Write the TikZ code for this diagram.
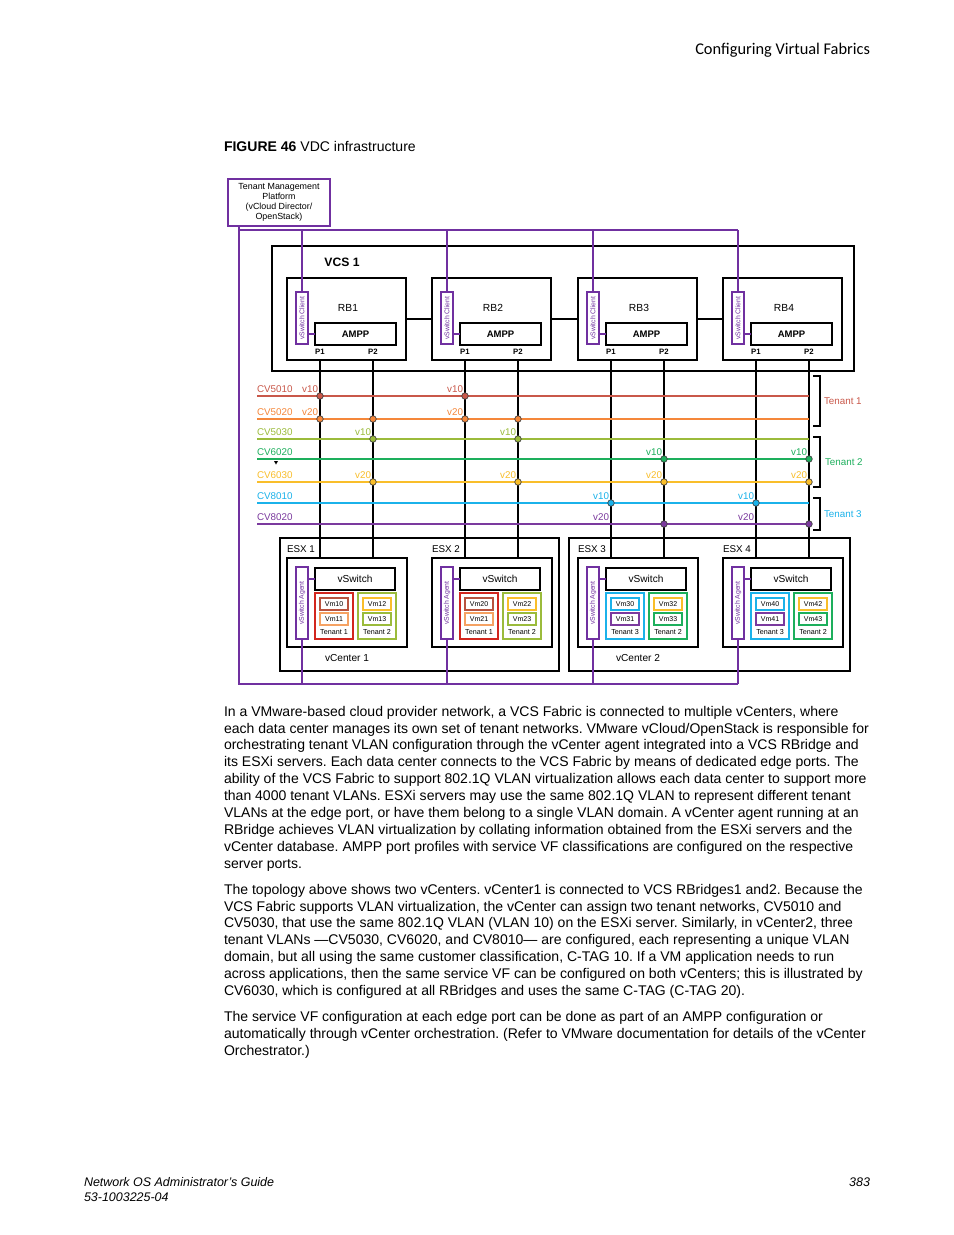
\documentclass[tikz,border=0pt]{standalone}
\usepackage{fontspec}
\setmainfont{Liberation Sans}
\newfontfamily\runfont{Carlito}
\usetikzlibrary{positioning}
\frenchspacing

\definecolor{mgmt}{HTML}{7030A0}
\definecolor{cvA}{HTML}{C9584A}
\definecolor{cvB}{HTML}{F5873A}
\definecolor{cvC}{HTML}{9BBB3B}
\definecolor{cvD}{HTML}{1DAF5C}
\definecolor{cvE}{HTML}{F9BE2A}
\definecolor{cvF}{HTML}{1BB2EA}
\definecolor{cvG}{HTML}{7B3A9E}
\definecolor{tred}{HTML}{D2261E}
\definecolor{vmA}{HTML}{B8533F}
\definecolor{vmB}{HTML}{F5A263}

\newcommand\pxl{0.6415pt}
\newcommand\fsz[1]{\fontsize{#1}{#1}\selectfont}

\tikzset{
  every node/.style={inner sep=0pt, outer sep=0pt},
  wh/.style 2 args={minimum width=#1*\pxl, minimum height=#2*\pxl},
  frame/.style={draw, line width=1.2pt},
  mgmtline/.style={draw=mgmt, line width=1.1pt},
  agentbox/.style={draw=mgmt, line width=1.1pt},
  tenbox/.style={line width=1.2pt},
  vmbox/.style={line width=1.1pt, wh={28}{12}, font=\fsz{4.5}},
  portline/.style={line width=0.9pt},
  vlan/.style={line width=0.9pt},
  dot/.style={circle, draw=black!75, line width=0.45pt, minimum size=4.2pt},
  lbl/.style={font=\fsz{6.3}},
}

% one RBridge of the fabric
\newcommand\RBridge[2]{%
    \node[frame, wh={119}{82}, anchor=north west] (rb#1) at (#2,278) {};
    \node[font=\fsz{6.6}] (rbl#1) at (#2+61,308) {RB#1};
    \node[agentbox, wh={12}{52}, anchor=north west] (cl#1) at (#2+9,292) {};
    \node[rotate=90, font=\fsz{4.4}, text=mgmt] (cll#1) at (cl#1) {vSwitch Client};
    \node[frame, wh={81}{22}, anchor=north west, font=\bfseries\fsz{6.1}] (ampp#1) at (#2+28,323) {AMPP};
    \draw[mgmtline] (cl#1.east |- ampp#1.west) -- (ampp#1.west);
    \node[font=\bfseries\fsz{5}] (pa#1) at (#2+33,352) {P1};
    \node[font=\bfseries\fsz{5}] (pb#1) at (#2+86,352) {P2};
}
% one ESX server: index, left, tenant colour, tenant no., vm colours, tenant 2 colour, vm colours
\newcommand\EsxHost[9]{%
    \node[frame, wh={120}{89}, anchor=north west] (esx#1) at (#2,558) {};
    \node[lbl, anchor=base west] (esxl#1) at (#2,552) {ESX #1};
    \node[agentbox, wh={12}{72}, anchor=north west] (ag#1) at (#2+9,567) {};
    \node[rotate=90, font=\fsz{4.4}, text=mgmt] (agl#1) at (ag#1) {vSwitch Agent};
    \node[frame, wh={80}{22}, anchor=north west, font=\fsz{6.5}] (vs#1) at (#2+28,568) {vSwitch};
    \draw[mgmtline] (ag#1.east |- vs#1.west) -- (vs#1.west);
    \node[tenbox, draw=#3, wh={38}{46}, anchor=north west] (ta#1) at (#2+28,593) {};
    \node[tenbox, draw=#7, wh={38}{46}, anchor=north west] (tb#1) at (#2+71,593) {};
    \node[vmbox, draw=#5, anchor=north west] (vm#10) at (#2+33,598) {Vm#10};
    \node[vmbox, draw=#6, anchor=north west] (vm#11) at (#2+33,613) {Vm#11};
    \node[vmbox, draw=#8, anchor=north west] (vm#12) at (#2+76,598) {Vm#12};
    \node[vmbox, draw=#9, anchor=north west] (vm#13) at (#2+76,613) {Vm#13};
    \node[font=\fsz{4.6}] (tal#1) at (#2+47,632) {Tenant #4};
    \node[font=\fsz{4.6}] (tbl#1) at (#2+90,632) {Tenant 2};
}
% one customer VLAN: colour, y, name, tag, tagged ports, dotted ports
\newcommand\Vlan[6]{%
    \coordinate (vl) at (257,#2);
    \draw[vlan, draw=#1] (vl) -- (vl -| pb4);
    \node[lbl, text=#1, anchor=south west] (#3) at (257,#2-3) {#3};
    \foreach \p in {#5}
        \node[lbl, text=#1, anchor=south east, xshift=-2*\pxl, yshift=3*\pxl] (#3t\p) at (\p |- vl) {#4};
    \foreach \p in {#6}
        \node[dot, fill=#1] (#3d\p) at (\p |- vl) {};
}

\begin{document}
\begin{tikzpicture}[x=0.6415pt, y=-0.6415pt]
    \path[fill=white, use as bounding box] (0,0) rectangle (954,1235);

    % page furniture
    \node[font=\runfont\fontsize{10.5}{12}\selectfont, anchor=base east] (head) at (870,54) {Configuring Virtual Fabrics};
    \node[font=\fontsize{9}{11}\selectfont, anchor=base west] (cap) at (224,151) {\textbf{FIGURE 46} VDC infrastructure};

    % management platform
    \node[draw=mgmt, line width=1.8pt, wh={102}{47}, anchor=north west, align=center,
          font=\fontsize{5.7}{6.4}\selectfont] (tmp) at (228,179)
          {Tenant Management\\Platform\\(vCloud Director/\\OpenStack)};

    % fabric
    \node[frame, wh={582}{125}, anchor=north west] (vcs) at (272,246) {};
    \node[font=\bfseries\fsz{7.8}] (vcsl) at (342,262) {VCS 1};
    \RBridge{1}{287}
    \RBridge{2}{432}
    \RBridge{3}{578}
    \RBridge{4}{723}
    \foreach \a/\b in {1/2,2/3,3/4}
        \draw[frame] (rb\a.east) -- (rb\b.west);

    % vCenters
    \node[frame, wh={279}{133}, anchor=north west] (vc1) at (280,538) {};
    \node[lbl, font=\fsz{6.5}] (vcl1) at (347,658) {vCenter 1};
    \node[frame, wh={281}{133}, anchor=north west] (vc2) at (569,538) {};
    \node[lbl, font=\fsz{6.5}] (vcl2) at (638,658) {vCenter 2};
    \EsxHost{1}{287}{tred}{1}{vmA}{vmB}{cvC}{cvE}{cvC}
    \EsxHost{2}{432}{tred}{1}{vmA}{vmB}{cvC}{cvE}{cvC}
    \EsxHost{3}{578}{cvF}{3}{cvF}{cvG}{cvD}{cvE}{cvD}
    \EsxHost{4}{723}{cvF}{3}{cvF}{cvG}{cvD}{cvE}{cvD}

    % edge ports
    \foreach \i in {1,...,4} {
        \draw[portline] (pa\i |- rb\i.south) -- (pa\i |- esx\i.north);
        \draw[portline] (pb\i |- rb\i.south) -- (pb\i |- esx\i.north);
    }

    % management wiring
    \coordinate (trunk) at (239,684);
    \coordinate (bus) at (239,230);
    \draw[mgmtline] (trunk |- tmp.south) -- (trunk) -- (trunk -| ag4.south);
    \draw[mgmtline] (bus) -- (bus -| cl4.north);
    \foreach \i in {1,...,4} {
        \draw[mgmtline] (bus -| cl\i.north) -- (cl\i.north);
        \draw[mgmtline] (ag\i.south) -- (ag\i.south |- trunk);
    }

    % VLANs
    \Vlan{cvA}{396}{CV5010}{v10}{pa1,pa2}{pa1,pa2}
    \Vlan{cvB}{419}{CV5020}{v20}{pa1,pa2}{pa1,pb1,pa2,pb2}
    \Vlan{cvC}{439}{CV5030}{v10}{pb1,pb2}{pb1,pb2}
    \Vlan{cvD}{459}{CV6020}{v10}{pb3,pb4}{pb3,pb4}
    \Vlan{cvE}{482}{CV6030}{v20}{pb1,pb2,pb3,pb4}{pb1,pb2,pb3,pb4}
    \Vlan{cvF}{503}{CV8010}{v10}{pa3,pa4}{pa3,pa4}
    \Vlan{cvG}{524}{CV8020}{v20}{pa3,pa4}{pb3,pb4}
    \fill (274,461) -- (278,461) -- (276,464.5) -- cycle;

    % tenant brackets
    \draw[line width=0.9pt] (813,376) -| (820,426) -- (813,426);
    \node[lbl, text=cvA, anchor=west] (ten1) at (824,401) {Tenant 1};
    \draw[line width=0.9pt] (813,437) -| (820,487) -- (813,487);
    \node[lbl, text=cvD, anchor=west] (ten2) at (825,462) {Tenant 2};
    \draw[line width=0.9pt] (813,498) -| (820,530) -- (813,530);
    \node[lbl, text=cvF, anchor=west] (ten3) at (824,514) {Tenant 3};

    % text
    \node[anchor=north west, align=left, font=\fontsize{9}{10.83}\selectfont] (body) at (224,706) {%
        In a VMware-based cloud provider network, a VCS Fabric is connected to multiple vCenters, where\\
        each data center manages its own set of tenant networks. VMware vCloud/OpenStack is responsible for\\
        orchestrating tenant VLAN configuration through the vCenter agent integrated into a VCS RBridge and\\
        its ESXi servers. Each data center connects to the VCS Fabric by means of dedicated edge ports. The\\
        ability of the VCS Fabric to support 802.1Q VLAN virtualization allows each data center to support more\\
        than 4000 tenant VLANs. ESXi servers may use the same 802.1Q VLAN to represent different tenant\\
        VLANs at the edge port, or have them belong to a single VLAN domain. A vCenter agent running at an\\
        RBridge achieves VLAN virtualization by collating information obtained from the ESXi servers and the\\
        vCenter database. AMPP port profiles with service VF classifications are configured on the respective\\
        server ports.\\[5.9pt]
        The topology above shows two vCenters. vCenter1 is connected to VCS RBridges1 and2. Because the\\
        VCS Fabric supports VLAN virtualization, the vCenter can assign two tenant networks, CV5010 and\\
        CV5030, that use the same 802.1Q VLAN (VLAN 10) on the ESXi server. Similarly, in vCenter2, three\\
        tenant VLANs —CV5030, CV6020, and CV8010— are configured, each representing a unique VLAN\\
        domain, but all using the same customer classification, C-TAG 10. If a VM application needs to run\\
        across applications, then the same service VF can be configured on both vCenters; this is illustrated by\\
        CV6030, which is configured at all RBridges and uses the same C-TAG (C-TAG 20).\\[5.9pt]
        The service VF configuration at each edge port can be done as part of an AMPP configuration or\\
        automatically through vCenter orchestration. (Refer to VMware documentation for details of the vCenter\\
        Orchestrator.)};

    \node[font=\itshape\fontsize{8}{9.5}\selectfont, anchor=base west] (foot) at (84,1186)
        {Network OS Administrator’s Guide};
    \node[font=\itshape\fontsize{8}{9.5}\selectfont, anchor=base west] (docno) at (84,1201) {53-1003225-04};
    \node[font=\itshape\fontsize{8}{9.5}\selectfont, anchor=base east] (pageno) at (870,1186) {383};
\end{tikzpicture}
\end{document}
